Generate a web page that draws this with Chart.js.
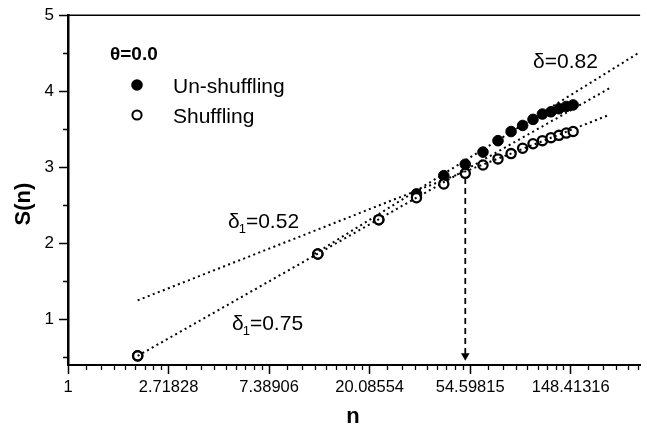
<!DOCTYPE html>
<html>
<head>
<meta charset="utf-8">
<script src="https://cdn.jsdelivr.net/npm/chart.js@4.4.0/dist/chart.umd.min.js"></script>
<style>
  html,body{margin:0;padding:0;background:#fff;}
  #wrap{width:647px;height:438px;}
</style>
</head>
<body>
<div id="wrap"><canvas id="chart" width="647" height="438"></canvas></div>
<script>
// ===== Data =====
const sizes = [2, 12, 22, 32, 42, 52, 62, 72, 82, 92, 102, 112, 122, 132, 142, 152];
const sUnshuffled = [0.52, 1.86, 2.31, 2.65, 2.89, 3.04, 3.20, 3.35, 3.47, 3.55, 3.63, 3.70, 3.73, 3.77, 3.80, 3.82];
const sShuffled   = [0.52, 1.86, 2.31, 2.60, 2.78, 2.92, 3.03, 3.11, 3.18, 3.25, 3.31, 3.35, 3.39, 3.42, 3.45, 3.47];

const xTickLabels = ["1", "2.71828", "7.38906", "20.08554", "54.59815", "148.41316"];
const yTickValues = [1, 2, 3, 4, 5];

// fitted lines  S = b + delta * ln(n)
const fitDelta = [0.82, 0.75, 0.52];
const fitB     = [-0.15, 0.0, 0.89];
const fitFrom  = [11.6, 2, 2];
const fitTo    = [290, 224, 217];

// crossover marker (dashed arrow down to the axis)
const crossN = 52;
const crossTop = 2.86;
const crossBottom = 0.52;

const FONT = '"Liberation Sans", Arial, Helvetica, sans-serif';
const Y_MIN = 0.4, Y_MAX = 5, X_MAX = Math.exp(5.69);

// ===== Datasets =====
const fitSets = fitDelta.map((d, i) => ({
  label: 'fit' + i,
  data: [fitFrom[i], fitTo[i]].map(n => ({x: n, y: fitB[i] + d * Math.log(n)})),
  showLine: true,
  borderColor: '#000',
  borderWidth: 2,
  borderDash: [2, 3.4],
  pointRadius: 0,
  order: 0
}));

const arrowSet = {
  label: 'cross',
  data: [{x: crossN, y: crossTop}, {x: crossN, y: crossBottom}],
  showLine: true,
  borderColor: '#000',
  borderWidth: 1.8,
  borderDash: [6, 4],
  pointRadius: [0, 5],
  pointStyle: 'triangle',
  rotation: 180,
  pointBackgroundColor: '#000',
  pointBorderColor: '#000',
  pointBorderWidth: 0,
  order: 0
};

const shufSet = {
  label: 'Shuffling',
  data: sizes.map((n, i) => ({x: n, y: sShuffled[i]})),
  pointRadius: 4.6,
  pointBorderWidth: 2.3,
  pointBorderColor: '#000',
  pointBackgroundColor: '#fff',
  order: 1
};

const unshufSet = {
  label: 'Un-shuffling',
  data: sizes.map((n, i) => ({x: n, y: sUnshuffled[i]})),
  pointRadius: 5.3,
  pointBorderWidth: 1,
  pointBorderColor: '#000',
  pointBackgroundColor: '#000',
  order: 2
};

// ===== Decorations: frame, minor ticks, titles, legend, labels =====
function deltaLabel(ctx, x, base, sub, rest){
  ctx.font = '21px ' + FONT;
  ctx.fillText('δ', x, base);
  let w = ctx.measureText('δ').width;
  if(sub){
    ctx.font = '13px ' + FONT;
    ctx.fillText(sub, x + w - 1, base + 5);
    w += ctx.measureText(sub).width - 1;
  }
  ctx.font = '21px ' + FONT;
  ctx.fillText(rest, x + w, base);
}

const decor = {
  id: 'decor',
  afterDraw(chart){
    const {ctx, chartArea: a, scales: {x, y}} = chart;
    ctx.save();
    ctx.strokeStyle = '#000';
    ctx.fillStyle = '#000';

    // top frame line
    ctx.lineWidth = 1.5;
    ctx.beginPath();
    ctx.moveTo(a.left - 1, a.top);
    ctx.lineTo(a.right, a.top);
    ctx.stroke();

    // minor ticks
    ctx.lineWidth = 1.3;
    ctx.beginPath();
    for(let k = 0; k < 6; k++){
      const lo = Math.exp(k), hi = Math.exp(k + 1);
      for(let i = 1; i < 9; i++){
        const v = lo + (hi - lo) * i / 9;
        if(v > x.max) break;
        const px = Math.round(x.getPixelForValue(v)) + 0.5;
        ctx.moveTo(px, a.bottom);
        ctx.lineTo(px, a.bottom + 5);
      }
    }
    for(let v = 0.5; v < Y_MAX; v += 1){
      const py = Math.round(y.getPixelForValue(v)) + 0.5;
      ctx.moveTo(a.left, py);
      ctx.lineTo(a.left - 5, py);
    }
    ctx.stroke();

    // axis titles
    ctx.font = 'bold 22px ' + FONT;
    ctx.textAlign = 'center';
    ctx.textBaseline = 'alphabetic';
    ctx.fillText('n', 353, 423);
    ctx.save();
    ctx.translate(30, 204);
    ctx.rotate(-Math.PI / 2);
    ctx.fillText('S(n)', 0, 0);
    ctx.restore();

    // legend
    ctx.textAlign = 'left';
    ctx.font = 'bold 19px ' + FONT;
    ctx.fillText('θ=0.0', 110, 60);
    ctx.beginPath();
    ctx.arc(137, 85, 5.8, 0, Math.PI * 2);
    ctx.fill();
    ctx.lineWidth = 2;
    ctx.beginPath();
    ctx.arc(137, 115, 4.6, 0, Math.PI * 2);
    ctx.stroke();
    ctx.font = '21px ' + FONT;
    ctx.fillText('Un-shuffling', 173, 93);
    ctx.fillText('Shuffling', 173, 123);

    // slope labels
    deltaLabel(ctx, 533, 68, '', '=0.82');
    deltaLabel(ctx, 228, 228, '1', '=0.52');
    deltaLabel(ctx, 232, 330, '1', '=0.75');

    ctx.restore();
  }
};

// ===== Chart =====
new Chart(document.getElementById('chart'), {
  type: 'scatter',
  data: {datasets: [...fitSets, arrowSet, shufSet, unshufSet]},
  options: {
    responsive: false,
    animation: false,
    devicePixelRatio: 1,
    layout: {padding: {top: 13, right: 0, left: 0, bottom: 0}},
    plugins: {legend: {display: false}, tooltip: {enabled: false}},
    scales: {
      x: {
        type: 'logarithmic',
        min: 1,
        max: X_MAX,
        bounds: 'data',
        afterBuildTicks: s => { s.ticks = xTickLabels.map((_, k) => ({value: Math.exp(k)})); },
        afterFit: s => { s.height = 73; },
        ticks: {
          callback: (v, i) => xTickLabels[i],
          font: {family: FONT, size: 16.5},
          color: '#000',
          padding: 4,
          maxRotation: 0,
          autoSkip: false
        },
        grid: {drawOnChartArea: false, tickLength: 9, tickColor: '#000', tickWidth: 1.5},
        border: {color: '#000', width: 2}
      },
      y: {
        type: 'linear',
        min: Y_MIN,
        max: Y_MAX,
        bounds: 'data',
        afterBuildTicks: s => { s.ticks = yTickValues.map(v => ({value: v})); },
        afterFit: s => { s.width = 68; },
        ticks: {
          callback: v => String(v),
          font: {family: FONT, size: 17},
          color: '#000',
          padding: 5
        },
        grid: {drawOnChartArea: false, tickLength: 9, tickColor: '#000', tickWidth: 1.5},
        border: {color: '#000', width: 2.5}
      }
    }
  },
  plugins: [decor]
});
</script>
</body>
</html>
